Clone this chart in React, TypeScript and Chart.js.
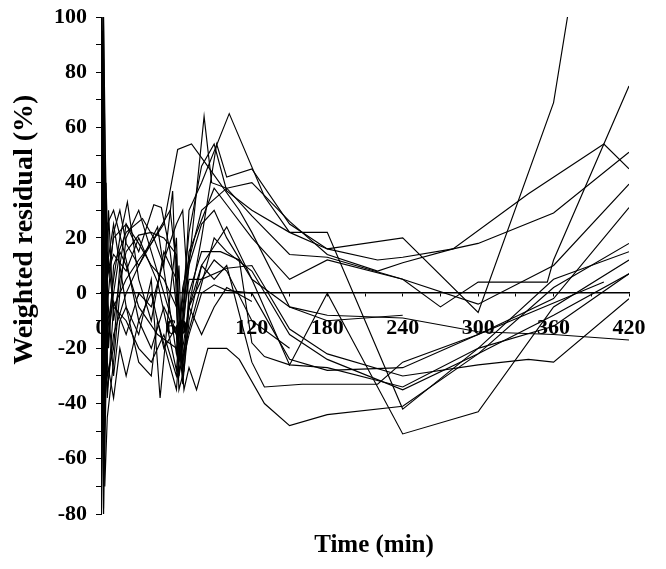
import { useEffect, useRef } from "react";
import { Chart, registerables, Plugin } from "chart.js";

Chart.register(...registerables);

const SERIF = '"Liberation Serif", "Times New Roman", serif';

// axis ranges and titles
const X_TITLE = "Time (min)";
const Y_TITLE = "Weighted residual (%)";
const X_MIN = 0;
const X_MAX = 420;
const Y_MIN = -80;
const Y_MAX = 100;

// weighted residuals per subject, [time (min), residual (%)]
const s01 = [[0, -75], [1, 95], [3, -60], [5, -5], [10, 22], [15, 30], [20, 18], [30, 10], [45, 24], [60, -22], [65, -2], [70, 22], [80, 46], [90, 54], [100, 37], [120, 30], [150, 22], [180, 16], [240, 20], [300, -7], [360, 69], [380, 125]];
const s02 = [[0, 85], [2, -78], [4, 40], [6, 8], [10, 14], [20, 8], [30, 20], [45, 4], [60, -28], [65, 2], [70, 12], [80, 30], [100, 38], [120, 28], [150, 14], [180, 13], [240, 5], [270, -5], [300, 4], [355, 4], [360, 12], [420, 75]];
const s03 = [[0, -60], [1, 100], [3, -45], [5, -15], [10, 5], [15, 20], [21, 33], [30, 5], [40, -10], [50, 15], [60, 5], [65, -20], [70, -5], [80, 20], [92, 54], [100, 42], [120, 45], [150, 25], [180, 16], [220, 12], [240, 13], [280, 16], [340, 36], [400, 54], [420, 45]];
const s04 = [[0, 100], [2, -80], [4, 30], [6, -20], [10, 10], [20, 22], [33, 27], [42, 20], [50, 10], [57, 37], [62, -30], [65, -15], [70, 10], [82, 64], [88, 40], [100, 38], [120, 40], [150, 26], [180, 14], [220, 8], [240, 11], [280, 16], [300, 18], [360, 29], [420, 51]];
const s05 = [[0, -80], [2, 85], [4, -30], [6, 30], [10, -10], [15, 5], [20, 15], [30, 21], [40, 22], [50, 20], [60, 14], [62, -25], [65, -10], [70, 15], [90, 38], [100, 32], [120, 20], [150, 5], [180, 12], [240, 5], [300, -4], [360, 10], [420, 39.5]];
const s06 = [[0, 60], [2, -80], [3.5, 50], [5, -30], [10, -20], [15, 10], [20, 25], [30, 15], [42, 32], [48, 31], [55, 15], [60, -5], [65, -33], [70, -10], [80, 10], [100, 24], [120, 5], [150, -26], [180, 0], [240, -51], [300, -43], [360, -5], [420, 12]];
const s07 = [[0, -70], [2, 100], [5, -38], [10, -5], [20, 5], [30, 12], [40, 18], [50, 25], [61, 52], [72, 54], [88, 44], [110, 30], [120, 22], [150, -5], [180, -8], [240, -9], [300, -14], [360, -15], [420, -17]];
const s08 = [[0, 30], [2, -70], [5, 10], [10, 25], [20, -5], [30, -15], [40, 5], [47, -38], [55, 0], [60, 20], [62, -10], [66, -35], [70, -27], [76, -35], [85, -20], [100, -20], [110, -24], [130, -40], [150, -48], [180, -44], [240, -41], [300, -22], [360, 2], [420, 18]];
const s09 = [[0, -50], [1, 80], [3, -70], [5, -45], [10, -25], [15, 0], [20, 20], [30, 30], [40, 15], [50, 0], [60, -15], [65, -25], [70, -5], [80, 10], [90, 5], [100, 10], [120, -25], [130, -34], [160, -33], [220, -33], [240, -25], [300, -15], [360, -2], [420, 31]];
const s10 = [[0, 40], [2, -35], [5, 5], [10, 20], [20, 25], [30, 18], [40, 10], [50, 5], [60, -5], [62, 10], [65, -30], [70, 0], [80, 15], [95, 15], [110, 12], [120, -18], [130, -23], [150, -26], [180, -27], [240, -34], [300, -20], [360, -12], [420, 7]];
const s11 = [[0, -30], [2, 50], [5, -20], [10, 0], [15, 15], [20, 10], [30, -5], [45, -15], [60, -20], [65, -10], [70, 5], [80, 5], [100, 9], [120, 10], [150, -13], [180, -22], [240, -30], [300, -26], [340, -24], [360, -25], [420, -2]];
const s12 = [[0, 70], [2, -20], [5, -35], [10, -15], [20, 0], [30, 10], [45, 22], [55, 30], [60, 10], [65, -25], [70, -15], [80, 0], [90, 3], [100, 1], [120, 0], [150, -24], [180, -28], [240, -27], [300, -15], [400, 4]];
const s13 = [[0, -82], [2, 10], [5, 25], [10, 30], [20, 12], [30, -10], [40, -20], [50, -5], [60, -15], [62, -30], [66, -20], [75, -5], [90, 20], [100, 15], [120, 8], [150, -15], [180, -24], [240, -35], [300, -22], [360, -8], [420, 7]];
const s14 = [[0, 20], [2, -60], [5, 15], [10, -5], [20, -10], [30, -20], [40, -25], [50, -15], [60, -30], [64, -20], [70, 30], [80, 40], [102, 65], [130, 35], [150, 22], [180, 22], [240, -42], [300, -20], [360, 5], [420, 15]];
const s15 = [[0, -20], [2, 100], [5, 0], [10, -30], [15, -10], [20, -5], [30, -25], [40, -30], [45, -10], [60, -35], [65, -5], [70, 10], [80, 25], [90, 30], [100, 20], [120, 5], [150, -5], [180, -10], [240, -8]];
const s16 = [[0, -70], [2, 30], [5, -25], [10, -38], [15, -20], [20, -30], [30, -10], [40, 0], [50, -20], [60, -12], [62, -35], [66, -28], [70, -5], [80, 5], [90, 12], [100, 8], [120, -10], [150, -20]];
const s17 = [[0, 50], [2, -45], [5, -10], [10, -3], [20, -15], [30, 0], [40, -5], [50, 12], [60, 25], [65, 30], [70, -5], [80, -15], [90, -5], [100, 2], [120, -3]];

const SUBJECTS = [s01, s02, s03, s04, s05, s06, s07, s08, s09, s10, s11, s12, s13, s14, s15, s16, s17];

const axisTitles: Plugin<"line"> = {
    id: "axisTitles",
    afterDraw(chart) {
        const { ctx, chartArea } = chart;
        ctx.save();
        ctx.fillStyle = "#000";
        ctx.textAlign = "center";
        ctx.textBaseline = "middle";

        // y title, rotated, sits a bit above the middle of the plot
        ctx.save();
        ctx.font = `bold 28px ${SERIF}`;
        ctx.translate(17, chartArea.top + (chartArea.bottom - chartArea.top) * 0.428);
        ctx.rotate(-Math.PI / 2);
        ctx.fillText(Y_TITLE, 0, 0);
        ctx.restore();

        // x title under the plot, slightly right of centre
        ctx.font = `bold 25px ${SERIF}`;
        ctx.fillText(X_TITLE, (chartArea.left + chartArea.right) / 2 + 9, chartArea.bottom + 32);
        ctx.restore();
    },
};

export default function App() {
    const canvasRef = useRef<HTMLCanvasElement>(null);
    const chartRef = useRef<Chart | null>(null);

    useEffect(() => {
        if (!canvasRef.current) return;
        if (chartRef.current) chartRef.current.destroy();

        chartRef.current = new Chart(canvasRef.current, {
            type: "line",
            data: {
                datasets: SUBJECTS.map((s, i) => ({
                    label: `subject ${i + 1}`,
                    data: s.map(([t, r]) => ({ x: t, y: r })),
                    borderColor: "#000",
                    borderWidth: 1.15,
                    pointRadius: 0,
                    tension: 0,
                    fill: false,
                })),
            },
            options: {
                animation: false,
                responsive: true,
                maintainAspectRatio: false,
                layout: { padding: { left: 0, right: 29, top: 0, bottom: 47 } },
                plugins: {
                    legend: { display: false },
                    tooltip: { enabled: false },
                },
                scales: {
                    x: {
                        type: "linear",
                        position: { y: 0 },
                        min: X_MIN,
                        max: X_MAX,
                        afterFit: (scale) => { scale.height = 20; },
                        ticks: {
                            stepSize: 30,
                            autoSkip: false,
                            maxRotation: 0,
                            padding: 1,
                            color: "#000",
                            // tall line box pushes the labels well below the zero line
                            font: { family: SERIF, size: 22, weight: "bold", lineHeight: 2.84 },
                            callback: (v) => (Number(v) % 60 === 0 ? String(v) : ""),
                        },
                        grid: { drawOnChartArea: false, drawTicks: true, tickLength: 3, color: "#000" },
                        border: { display: true, color: "#000", width: 1.5 },
                    },
                    y: {
                        type: "linear",
                        position: "left",
                        min: Y_MIN,
                        max: Y_MAX,
                        afterFit: (scale) => { scale.width = 93; },
                        ticks: {
                            stepSize: 10,
                            autoSkip: false,
                            padding: 9,
                            color: "#000",
                            font: { family: SERIF, size: 22, weight: "bold", lineHeight: 0 },
                            callback: (v) => (Number(v) % 20 === 0 ? String(v) : ""),
                        },
                        grid: { drawOnChartArea: false, drawTicks: true, tickLength: 5, color: "#000" },
                        border: { display: true, color: "#000", width: 1 },
                    },
                },
            },
            plugins: [axisTitles],
        });

        return () => {
            if (chartRef.current) {
                chartRef.current.destroy();
                chartRef.current = null;
            }
        };
    }, []);

    return (
        <div style={{ position: "relative", width: 650, height: 553 }}>
            <canvas ref={canvasRef}></canvas>
        </div>
    );
}
